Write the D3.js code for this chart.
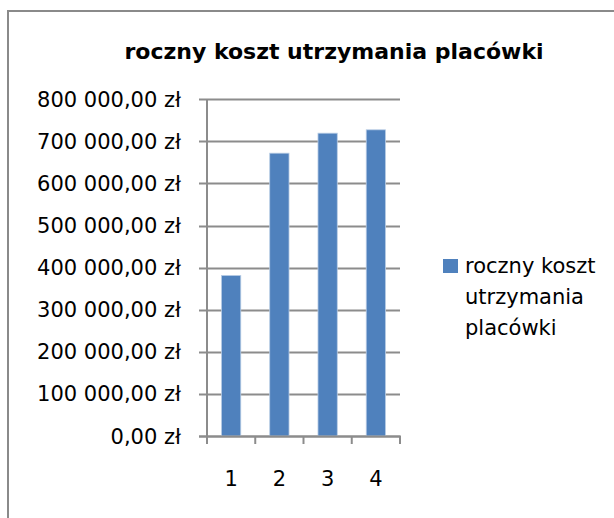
<!DOCTYPE html>
<html><head><meta charset="utf-8">
<script src="https://cdn.jsdelivr.net/npm/d3@7/dist/d3.min.js"></script>
<style>html,body{margin:0;padding:0;background:#fff;overflow:hidden}</style>
</head><body>
<script>
const title = "roczny koszt utrzymania placówki";
const categories = ["1", "2", "3", "4"];
const values = [381500, 672000, 719500, 727500];
const yTicks = [0, 100000, 200000, 300000, 400000, 500000, 600000, 700000, 800000];
const legendLines = ["roczny koszt", "utrzymania", "placówki"];

const W = 614, H = 518;
const font = "'DejaVu Sans', sans-serif";
const svg = d3.select("body").append("svg").attr("width", W).attr("height", H);

// chart frame (extends past viewport on right/bottom)
svg.append("rect").attr("x", 8).attr("y", 11).attr("width", 620).attr("height", 520)
  .attr("fill", "#fff").attr("stroke", "#8a8a8a").attr("stroke-width", 2);

const x0 = 207, x1 = 400, yTop = 99.3, yBot = 436;
const x = d3.scaleBand().domain(categories).range([x0, x1]).paddingInner(0.6).paddingOuter(0.3);
const y = d3.scaleLinear().domain([0, 800000]).range([yBot, yTop]);

const fmt = v => {
  const s = d3.format(",.2f")(v).replace(/,/g, " ").replace(".", ",");
  return s + " zł";
};

// gridlines
svg.append("g").selectAll("line").data(yTicks).join("line")
  .attr("x1", x0 - 8).attr("x2", x1)
  .attr("y1", d => Math.round(y(d)) + 0.5).attr("y2", d => Math.round(y(d)) + 0.5)
  .attr("stroke", "#8c8c8c").attr("stroke-width", 2);

// bars
svg.append("g").selectAll("rect").data(values).join("rect")
  .attr("x", (d, i) => x(categories[i]))
  .attr("width", x.bandwidth())
  .attr("y", d => y(d))
  .attr("height", d => yBot - y(d))
  .attr("fill", "#4f81bd").attr("stroke", "#b9cde5").attr("stroke-width", 0.8);

// y axis line
svg.append("line").attr("x1", x0).attr("x2", x0).attr("y1", yTop).attr("y2", yBot + 8)
  .attr("stroke", "#8c8c8c").attr("stroke-width", 2);
// x axis line
svg.append("line").attr("x1", x0 - 8).attr("x2", x1 + 1).attr("y1", yBot + 0.5).attr("y2", yBot + 0.5)
  .attr("stroke", "#8c8c8c").attr("stroke-width", 2);
// x ticks between categories
const step = (x1 - x0) / categories.length;
svg.append("g").selectAll("line").data(d3.range(categories.length + 1)).join("line")
  .attr("x1", i => x0 + i * step).attr("x2", i => x0 + i * step)
  .attr("y1", yBot).attr("y2", yBot + 8)
  .attr("stroke", "#8c8c8c").attr("stroke-width", 2);

// y labels
svg.append("g").selectAll("text").data(yTicks).join("text")
  .attr("x", 181).attr("y", d => y(d) + 7.5)
  .attr("text-anchor", "end").attr("font-family", font).attr("font-size", 21)
  .attr("fill", "#000").text(fmt);

// x labels
svg.append("g").selectAll("text").data(categories).join("text")
  .attr("x", d => x(d) + x.bandwidth() / 2).attr("y", 486)
  .attr("text-anchor", "middle").attr("font-family", font).attr("font-size", 21)
  .attr("fill", "#000").text(d => d);

// title
svg.append("text").attr("x", 334).attr("y", 59).attr("text-anchor", "middle")
  .attr("font-family", font).attr("font-weight", "bold").attr("font-size", 22)
  .attr("fill", "#000").text(title);

// legend
svg.append("rect").attr("x", 443).attr("y", 259).attr("width", 15).attr("height", 14)
  .attr("fill", "#4f81bd");
svg.append("g").selectAll("text").data(legendLines).join("text")
  .attr("x", 465).attr("y", (d, i) => 273 + i * 31)
  .attr("font-family", font).attr("font-size", 21).attr("fill", "#000").text(d => d);
</script>
</body></html>
